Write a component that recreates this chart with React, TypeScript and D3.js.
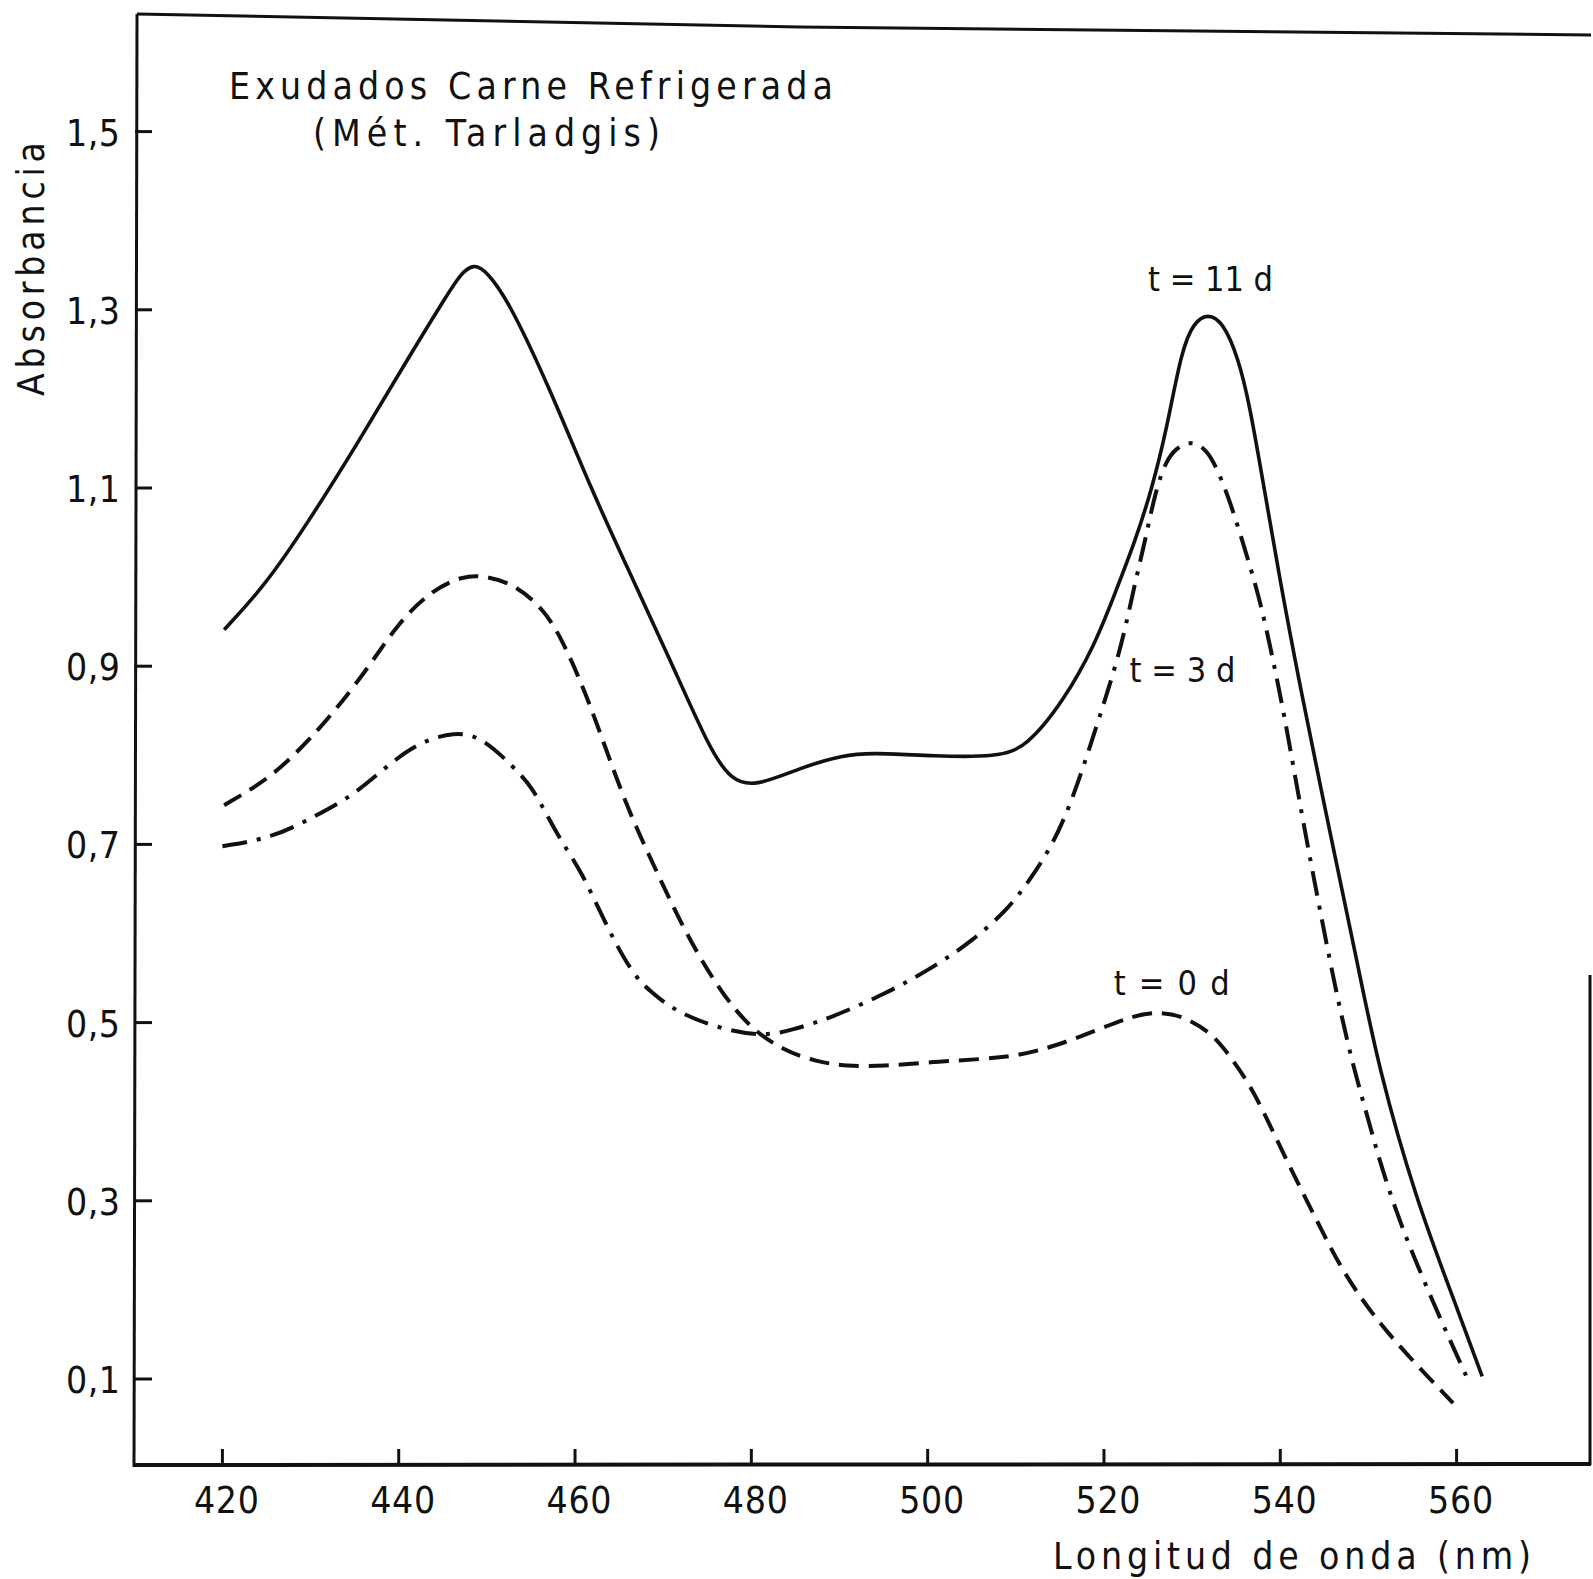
import React, { useEffect, useRef } from "react";
import * as d3 from "d3";

// t = 11 d (solid)
const wl11 = [420.2, 424.7, 429.3, 435.1, 440.9, 445.5, 447.0, 448.5, 450.0, 452.4, 457.0, 461.9, 466.2, 470.8, 475.4, 477.7, 480.3, 485.8, 490.4, 493.6, 500.8, 507.9, 511.2, 515.5, 519.0, 521.1, 523.6, 525.4, 527.1, 528.8, 530.2, 531.8, 533.5, 535.2, 536.5, 538.2, 539.9, 542.1, 545.7, 548.9, 551.1, 555.4, 559.7, 562.9];
const abs11 = [0.941, 0.989, 1.055, 1.146, 1.243, 1.317, 1.34, 1.352, 1.343, 1.311, 1.215, 1.097, 1.005, 0.907, 0.804, 0.773, 0.764, 0.787, 0.8, 0.803, 0.799, 0.798, 0.809, 0.862, 0.925, 0.978, 1.042, 1.098, 1.165, 1.255, 1.286, 1.296, 1.286, 1.247, 1.195, 1.098, 1.0, 0.884, 0.71, 0.56, 0.451, 0.301, 0.189, 0.103];

// t = 3 d (dash-dot)
const wl3 = [420.0, 425.6, 430.4, 434.7, 438.2, 442.1, 446.4, 449.5, 453.0, 455.1, 456.9, 458.6, 460.8, 462.9, 464.8, 466.8, 468.5, 471.5, 476.1, 481.2, 484.7, 488.7, 495.4, 500.8, 505.1, 509.0, 511.6, 514.2, 516.1, 517.6, 519.2, 520.3, 521.5, 522.5, 523.6, 524.7, 525.8, 527.0, 528.2, 529.7, 531.0, 532.4, 534.4, 536.3, 537.8, 539.5, 540.7, 542.5, 544.5, 546.6, 548.5, 550.0, 551.1, 553.2, 555.2, 557.3, 559.5, 561.3];
const abs3 = [0.698, 0.707, 0.731, 0.754, 0.784, 0.814, 0.827, 0.82, 0.787, 0.765, 0.731, 0.701, 0.668, 0.623, 0.585, 0.552, 0.535, 0.512, 0.494, 0.484, 0.492, 0.504, 0.533, 0.563, 0.592, 0.626, 0.66, 0.7, 0.743, 0.785, 0.834, 0.868, 0.907, 0.946, 0.997, 1.042, 1.095, 1.13, 1.145, 1.152, 1.148, 1.133, 1.083, 1.021, 0.971, 0.892, 0.832, 0.73, 0.626, 0.521, 0.442, 0.391, 0.35, 0.286, 0.236, 0.187, 0.138, 0.099];

// t = 0 d (dashed)
const wl0 = [420.2, 424.7, 428.2, 432.5, 436.9, 439.9, 443.8, 447.3, 449.5, 453.0, 456.4, 458.6, 461.2, 463.4, 466.0, 469.0, 472.2, 476.1, 479.8, 483.6, 487.4, 490.8, 495.0, 500.6, 506.3, 510.4, 514.6, 519.3, 523.4, 526.2, 528.8, 532.2, 534.4, 536.5, 538.2, 540.4, 542.5, 544.7, 546.8, 549.8, 553.2, 556.7, 559.6];
const abs0 = [0.744, 0.77, 0.8, 0.846, 0.903, 0.948, 0.986, 1.001, 1.002, 0.993, 0.965, 0.929, 0.87, 0.81, 0.739, 0.675, 0.607, 0.54, 0.494, 0.469, 0.456, 0.451, 0.451, 0.456, 0.459, 0.463, 0.474, 0.492, 0.508, 0.512, 0.508, 0.489, 0.461, 0.431, 0.398, 0.352, 0.31, 0.267, 0.226, 0.181, 0.14, 0.103, 0.073];

const xTicks = [420, 440, 460, 480, 500, 520, 540, 560];
const yTicks = [0.1, 0.3, 0.5, 0.7, 0.9, 1.1, 1.3, 1.5];

const seriesLabels = [
  { text: "t = 11 d", wl: 525.0, v: 1.321, len: 125 },
  { text: "t = 3 d", wl: 522.9, v: 0.882, len: 106 },
  { text: "t = 0 d", wl: 521.1, v: 0.531, len: 116 },
];

const FONT = "'DejaVu Sans Condensed', 'Liberation Sans Narrow', sans-serif";
const INK = "#111";

export default function App() {
  const ref = useRef(null);

  useEffect(() => {
    const width = 1593;
    const height = 1579;
    const axisX = 135;
    const axisY = 1465;

    d3.select(ref.current).selectAll("*").remove();
    const svg = d3
      .select(ref.current)
      .append("svg")
      .attr("width", width)
      .attr("height", height)
      .style("position", "absolute")
      .style("left", 0)
      .style("top", 0)
      .style("background", "#fff");

    const x = d3.scaleLinear().domain([420, 560]).range([222.4, 1456.6]);
    const y = d3.scaleLinear().domain([0.1, 1.5]).range([1379, 131.6]);

    // frame
    const frame = svg.append("g").attr("stroke", INK).attr("fill", "none");
    frame.append("path").attr("stroke-width", 3).attr("d", `M137,14 L800,27 L1591,35`);
    frame.append("path").attr("stroke-width", 3).attr("d", `M137,14 L134,${axisY + 2}`);
    frame.append("path").attr("stroke-width", 4).attr("d", `M133,${axisY} L1591,${axisY - 1}`);
    frame.append("path").attr("stroke-width", 3).attr("d", `M1590,975 L1590,${axisY}`);

    // x ticks
    const xg = svg.append("g");
    xg.selectAll("line")
      .data(xTicks)
      .join("line")
      .attr("x1", (d) => x(d))
      .attr("x2", (d) => x(d))
      .attr("y1", axisY)
      .attr("y2", axisY - 16)
      .attr("stroke", INK)
      .attr("stroke-width", 3);
    xg.selectAll("text")
      .data(xTicks)
      .join("text")
      .attr("x", (d) => x(d) + 4)
      .attr("y", 1513)
      .attr("text-anchor", "middle")
      .attr("font-family", FONT)
      .attr("font-size", 37)
      .attr("textLength", 65)
      .attr("lengthAdjust", "spacing")
      .attr("fill", INK)
      .text((d) => d);

    // y ticks
    const yg = svg.append("g");
    yg.selectAll("line")
      .data(yTicks)
      .join("line")
      .attr("x1", axisX)
      .attr("x2", axisX + 17)
      .attr("y1", (d) => y(d))
      .attr("y2", (d) => y(d))
      .attr("stroke", INK)
      .attr("stroke-width", 3);
    yg.selectAll("text")
      .data(yTicks)
      .join("text")
      .attr("x", 120)
      .attr("y", (d) => y(d) + 14)
      .attr("text-anchor", "end")
      .attr("font-family", FONT)
      .attr("font-size", 37)
      .attr("textLength", 54)
      .attr("lengthAdjust", "spacing")
      .attr("fill", INK)
      .text((d) => d.toFixed(1).replace(".", ","));

    // curves
    const line = d3
      .line()
      .x((d) => x(d[0]))
      .y((d) => y(d[1]))
      .curve(d3.curveBasis);

    const series = [
      { wl: wl11, v: abs11, dash: null, w: 3.6 },
      { wl: wl3, v: abs3, dash: "25 10 4 10", w: 4 },
      { wl: wl0, v: abs0, dash: "20 10", w: 4 },
    ];

    series.forEach((s) => {
      const pts = s.wl.map((w, i) => [w, s.v[i]]);
      svg
        .append("path")
        .datum(pts)
        .attr("fill", "none")
        .attr("stroke", INK)
        .attr("stroke-width", s.w)
        .attr("stroke-dasharray", s.dash)
        .attr("d", line);
    });

    // series labels
    svg
      .append("g")
      .selectAll("text")
      .data(seriesLabels)
      .join("text")
      .attr("x", (d) => x(d.wl))
      .attr("y", (d) => y(d.v))
      .attr("font-family", FONT)
      .attr("font-size", 34)
      .attr("textLength", (d) => d.len)
      .attr("lengthAdjust", "spacing")
      .attr("fill", INK)
      .text((d) => d.text);

    // titles
    const txt = (s, tx, ty, len, size = 37) =>
      svg
        .append("text")
        .attr("x", tx)
        .attr("y", ty)
        .attr("font-family", FONT)
        .attr("font-size", size)
        .attr("textLength", len)
        .attr("lengthAdjust", "spacing")
        .attr("fill", INK)
        .text(s);

    txt("Exudados Carne Refrigerada", 229, 99, 604);
    txt("(Mét. Tarladgis)", 313, 146, 347);
    txt("Longitud de onda (nm)", 1053, 1569, 478);

    svg
      .append("text")
      .attr("transform", "translate(44,396) rotate(-90)")
      .attr("font-family", FONT)
      .attr("font-size", 37)
      .attr("textLength", 254)
      .attr("lengthAdjust", "spacing")
      .attr("fill", INK)
      .text("Absorbancia");
  }, []);

  return <div ref={ref}></div>;
}
